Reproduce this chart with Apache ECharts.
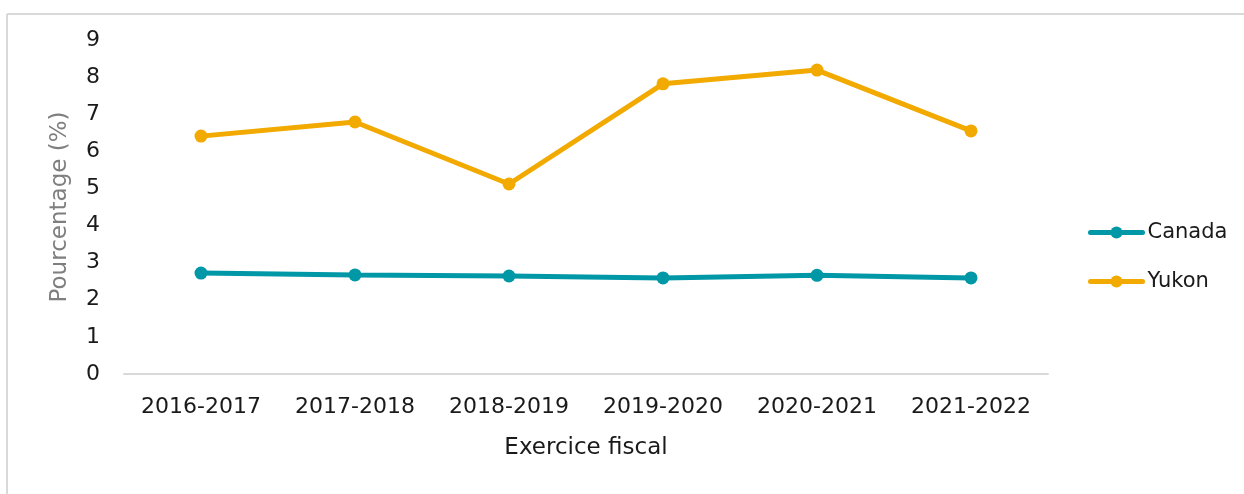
<!DOCTYPE html>
<html>
<head>
<meta charset="utf-8">
<script src="https://cdn.jsdelivr.net/npm/echarts@6/dist/echarts.min.js"></script>
<style>
  html, body { margin: 0; padding: 0; background: #fff; }
  #chart { width: 1244px; height: 494px; }
</style>
</head>
<body>
<div id="chart"></div>
<script>
// Fiscal years on the horizontal axis
const years = ['2016-2017', '2017-2018', '2018-2019', '2019-2020', '2020-2021', '2021-2022'];
// Percentage values per jurisdiction
const canada = [2.72, 2.67, 2.64, 2.59, 2.66, 2.59];
const yukon = [6.41, 6.79, 5.12, 7.82, 8.19, 6.55];
// Y axis range
const yMin = 0;
const yMax = 9;
const yStep = 1;

const FONT = '"DejaVu Sans", sans-serif';
const chart = echarts.init(document.getElementById('chart'), null, { renderer: 'canvas' });

chart.setOption({
  backgroundColor: '#ffffff',
  animation: false,
  textStyle: { fontFamily: FONT },
  graphic: [
    { type: 'line', shape: { x1: 7, y1: 14, x2: 1244, y2: 14 }, style: { stroke: '#d9d9d9', lineWidth: 2 } },
    { type: 'line', shape: { x1: 7, y1: 14, x2: 7, y2: 494 }, style: { stroke: '#d9d9d9', lineWidth: 2 } }
  ],
  grid: { left: 124, right: 196, top: 40, bottom: 120, containLabel: false },
  legend: {
    orient: 'vertical',
    left: 1083,
    top: 217,
    itemWidth: 52,
    itemHeight: 15,
    itemGap: 28,
    lineStyle: { width: 5, cap: 'round' },
    textStyle: { fontSize: 21, color: '#1a1a1a', fontFamily: FONT, padding: [0, 0, 0, 0] },
    data: ['Canada', 'Yukon']
  },
  xAxis: {
    type: 'category',
    data: years,
    boundaryGap: true,
    axisLine: { show: true, lineStyle: { color: '#d9d9d9', width: 2 } },
    axisTick: { show: false },
    axisLabel: { fontSize: 22, color: '#1a1a1a', margin: 22, interval: 0, fontFamily: FONT },
    name: 'Exercice fiscal',
    nameLocation: 'middle',
    nameGap: 63,
    nameTextStyle: { fontSize: 23, color: '#1a1a1a', fontFamily: FONT }
  },
  yAxis: {
    type: 'value',
    min: yMin,
    max: yMax,
    interval: yStep,
    axisLine: { show: false },
    axisTick: { show: false },
    splitLine: { show: false },
    axisLabel: { fontSize: 22, color: '#1a1a1a', margin: 24, fontFamily: FONT },
    name: 'Pourcentage (%)',
    nameLocation: 'middle',
    nameGap: 52,
    nameTextStyle: { fontSize: 23, color: '#7f7f7f', fontFamily: FONT }
  },
  series: [
    {
      name: 'Canada',
      type: 'line',
      data: canada,
      symbol: 'circle',
      symbolSize: 13,
      lineStyle: { color: '#0097a7', width: 5, cap: 'round' },
      itemStyle: { color: '#0097a7' }
    },
    {
      name: 'Yukon',
      type: 'line',
      data: yukon,
      symbol: 'circle',
      symbolSize: 13,
      lineStyle: { color: '#f2a900', width: 5, cap: 'round' },
      itemStyle: { color: '#f2a900' }
    }
  ]
});
</script>
</body>
</html>
